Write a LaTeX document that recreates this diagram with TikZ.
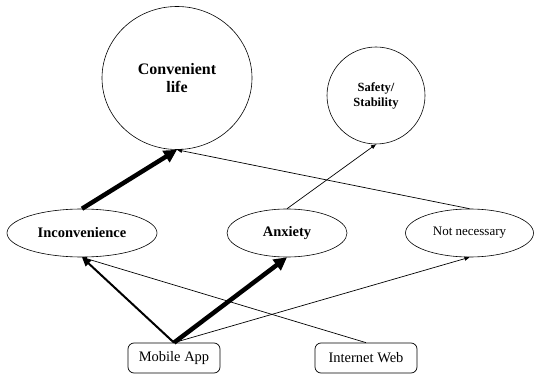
\documentclass[tikz,border=0pt]{standalone}
\usepackage{fontspec}
\setmainfont{Liberation Serif}
\usetikzlibrary{shapes.geometric,arrows.meta}
\begin{document}
\begin{tikzpicture}[x=1pt,y=-1pt,
  oval/.style={draw,ellipse,inner sep=0pt,line width=0.6pt},
  boxnode/.style={draw,rectangle,rounded corners=6pt,inner sep=0pt,line width=0.7pt,
    minimum height=30pt,font=\fontsize{14.5}{16}\selectfont},
  thinarrow/.style={line width=0.7pt,-{Triangle[length=5pt,width=4pt]}},
  midarrow/.style={line width=2pt,-{Triangle[length=9pt,width=8pt]}},
  heavyarrow/.style={line width=4.5pt,-{Triangle[length=13pt,width=13pt]}}]
\useasboundingbox (0,0) rectangle (535,374);

% goals
\node[oval,minimum width=150pt,minimum height=143pt,align=center,
  font=\fontsize{16}{18}\selectfont\bfseries] (conv) at (177,78) {Convenient\\life};
\node[oval,minimum width=98pt,minimum height=97pt,align=center,
  font=\fontsize{12.5}{15}\selectfont\bfseries] (safe) at (376,95.5) {Safety/\\Stability};

% middle layer
\node[oval,minimum width=150pt,minimum height=48pt,
  font=\fontsize{14.5}{16}\selectfont\bfseries] (inc) at (82,233) {Inconvenience};
\node[oval,minimum width=120pt,minimum height=48pt,
  font=\fontsize{14.5}{16}\selectfont\bfseries] (anx) at (287,233) {Anxiety};
\node[oval,minimum width=128pt,minimum height=48pt,
  font=\fontsize{13}{15}\selectfont] (notn) at (469.5,233) {Not necessary};

% sources
\node[boxnode,minimum width=92pt] (app) at (174,358) {Mobile App};
\node[boxnode,minimum width=102pt] (web) at (366,358) {Internet Web};

% links
\draw[thinarrow] (web.north) -- (inc.south);
\draw[thinarrow] (app.north) -- (notn.south);
\draw[midarrow] (app.north) -- (inc.south);
\draw[heavyarrow] (app.north) -- (anx.south);
\draw[heavyarrow] (inc.north) -- (conv.south);
\draw[thinarrow] (notn.north) -- (conv.south);
\draw[thinarrow] (anx.north) -- (safe.south);
\end{tikzpicture}
\end{document}
